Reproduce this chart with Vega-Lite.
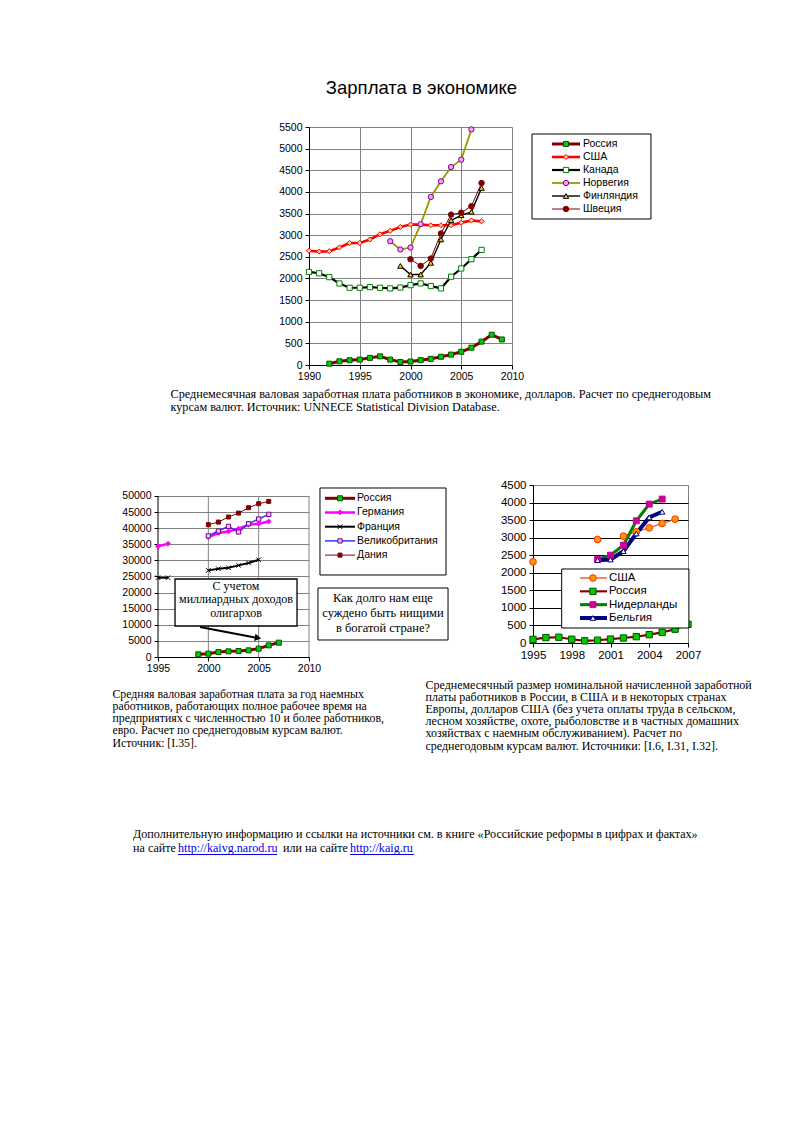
{
  "$schema": "https://vega.github.io/schema/vega-lite/v6.json",
  "background": "white",
  "padding": {"left": 112, "top": 78, "right": 10, "bottom": 10},
  "columns": 3,
  "spacing": 0,
  "align": "each",
  "bounds": "flush",
  "resolve": {"scale": {"x": "independent", "y": "independent", "color": "independent", "fill": "independent", "stroke": "independent", "shape": "independent", "size": "independent", "strokeWidth": "independent"}},
  "datasets": {
    "top": [
      {"s": "Россия", "yr": 1992, "v": 30}, {"s": "Россия", "yr": 1993, "v": 85}, {"s": "Россия", "yr": 1994, "v": 110}, {"s": "Россия", "yr": 1995, "v": 125}, {"s": "Россия", "yr": 1996, "v": 165}, {"s": "Россия", "yr": 1997, "v": 200}, {"s": "Россия", "yr": 1998, "v": 125}, {"s": "Россия", "yr": 1999, "v": 70}, {"s": "Россия", "yr": 2000, "v": 80}, {"s": "Россия", "yr": 2001, "v": 112}, {"s": "Россия", "yr": 2002, "v": 142}, {"s": "Россия", "yr": 2003, "v": 190}, {"s": "Россия", "yr": 2004, "v": 240}, {"s": "Россия", "yr": 2005, "v": 305}, {"s": "Россия", "yr": 2006, "v": 400}, {"s": "Россия", "yr": 2007, "v": 540}, {"s": "Россия", "yr": 2008, "v": 700}, {"s": "Россия", "yr": 2009, "v": 590},
      {"s": "США", "yr": 1990, "v": 2640}, {"s": "США", "yr": 1991, "v": 2620}, {"s": "США", "yr": 1992, "v": 2630}, {"s": "США", "yr": 1993, "v": 2715}, {"s": "США", "yr": 1994, "v": 2820}, {"s": "США", "yr": 1995, "v": 2820}, {"s": "США", "yr": 1996, "v": 2900}, {"s": "США", "yr": 1997, "v": 3020}, {"s": "США", "yr": 1998, "v": 3100}, {"s": "США", "yr": 1999, "v": 3190}, {"s": "США", "yr": 2000, "v": 3245}, {"s": "США", "yr": 2001, "v": 3245}, {"s": "США", "yr": 2002, "v": 3230}, {"s": "США", "yr": 2003, "v": 3230}, {"s": "США", "yr": 2004, "v": 3230}, {"s": "США", "yr": 2005, "v": 3290}, {"s": "США", "yr": 2006, "v": 3340}, {"s": "США", "yr": 2007, "v": 3320},
      {"s": "Канада", "yr": 1990, "v": 2150}, {"s": "Канада", "yr": 1991, "v": 2120}, {"s": "Канада", "yr": 1992, "v": 2030}, {"s": "Канада", "yr": 1993, "v": 1885}, {"s": "Канада", "yr": 1994, "v": 1785}, {"s": "Канада", "yr": 1995, "v": 1785}, {"s": "Канада", "yr": 1996, "v": 1800}, {"s": "Канада", "yr": 1997, "v": 1785}, {"s": "Канада", "yr": 1998, "v": 1770}, {"s": "Канада", "yr": 1999, "v": 1790}, {"s": "Канада", "yr": 2000, "v": 1845}, {"s": "Канада", "yr": 2001, "v": 1885}, {"s": "Канада", "yr": 2002, "v": 1825}, {"s": "Канада", "yr": 2003, "v": 1770}, {"s": "Канада", "yr": 2004, "v": 2040}, {"s": "Канада", "yr": 2005, "v": 2230}, {"s": "Канада", "yr": 2006, "v": 2445}, {"s": "Канада", "yr": 2007, "v": 2660},
      {"s": "Норвегия", "yr": 1998, "v": 2860}, {"s": "Норвегия", "yr": 1999, "v": 2670}, {"s": "Норвегия", "yr": 2000, "v": 2715}, {"s": "Норвегия", "yr": 2001, "v": 3255}, {"s": "Норвегия", "yr": 2002, "v": 3885}, {"s": "Норвегия", "yr": 2003, "v": 4245}, {"s": "Норвегия", "yr": 2004, "v": 4575}, {"s": "Норвегия", "yr": 2005, "v": 4745}, {"s": "Норвегия", "yr": 2006, "v": 5445},
      {"s": "Финляндия", "yr": 1999, "v": 2290}, {"s": "Финляндия", "yr": 2000, "v": 2090}, {"s": "Финляндия", "yr": 2001, "v": 2090}, {"s": "Финляндия", "yr": 2002, "v": 2360}, {"s": "Финляндия", "yr": 2003, "v": 2900}, {"s": "Финляндия", "yr": 2004, "v": 3345}, {"s": "Финляндия", "yr": 2005, "v": 3460}, {"s": "Финляндия", "yr": 2006, "v": 3540}, {"s": "Финляндия", "yr": 2007, "v": 4090},
      {"s": "Швеция", "yr": 2000, "v": 2445}, {"s": "Швеция", "yr": 2001, "v": 2290}, {"s": "Швеция", "yr": 2002, "v": 2460}, {"s": "Швеция", "yr": 2003, "v": 3040}, {"s": "Швеция", "yr": 2004, "v": 3475}, {"s": "Швеция", "yr": 2005, "v": 3520}, {"s": "Швеция", "yr": 2006, "v": 3670}, {"s": "Швеция", "yr": 2007, "v": 4205}
    ],
    "left": [
      {"s": "Россия", "yr": 1999, "v": 830}, {"s": "Россия", "yr": 2000, "v": 1035}, {"s": "Россия", "yr": 2001, "v": 1550}, {"s": "Россия", "yr": 2002, "v": 1760}, {"s": "Россия", "yr": 2003, "v": 1860}, {"s": "Россия", "yr": 2004, "v": 2070}, {"s": "Россия", "yr": 2005, "v": 2590}, {"s": "Россия", "yr": 2006, "v": 3620}, {"s": "Россия", "yr": 2007, "v": 4450},
      {"s": "Германия", "yr": 1995, "v": 34360}, {"s": "Германия", "yr": 1996, "v": 35190}, {"s": "Германия", "yr": 1997, "v": null}, {"s": "Германия", "yr": 2000, "v": 37260}, {"s": "Германия", "yr": 2001, "v": 38500}, {"s": "Германия", "yr": 2002, "v": 39000}, {"s": "Германия", "yr": 2003, "v": 39850}, {"s": "Германия", "yr": 2004, "v": 41090}, {"s": "Германия", "yr": 2005, "v": 41400}, {"s": "Германия", "yr": 2006, "v": 42100},
      {"s": "Франция", "yr": 1995, "v": 24630}, {"s": "Франция", "yr": 1996, "v": 24630}, {"s": "Франция", "yr": 1997, "v": null}, {"s": "Франция", "yr": 2000, "v": 26900}, {"s": "Франция", "yr": 2001, "v": 27400}, {"s": "Франция", "yr": 2002, "v": 27700}, {"s": "Франция", "yr": 2003, "v": 28460}, {"s": "Франция", "yr": 2004, "v": 29190}, {"s": "Франция", "yr": 2005, "v": 30200},
      {"s": "Великобритания", "yr": 2000, "v": 37600}, {"s": "Великобритания", "yr": 2001, "v": 39120}, {"s": "Великобритания", "yr": 2002, "v": 40570}, {"s": "Великобритания", "yr": 2003, "v": 38810}, {"s": "Великобритания", "yr": 2004, "v": 41400}, {"s": "Великобритания", "yr": 2005, "v": 42850}, {"s": "Великобритания", "yr": 2006, "v": 44300},
      {"s": "Дания", "yr": 2000, "v": 41090}, {"s": "Дания", "yr": 2001, "v": 41900}, {"s": "Дания", "yr": 2002, "v": 43470}, {"s": "Дания", "yr": 2003, "v": 44700}, {"s": "Дания", "yr": 2004, "v": 46370}, {"s": "Дания", "yr": 2005, "v": 47600}, {"s": "Дания", "yr": 2006, "v": 48330}
    ],
    "right": [
      {"s": "США", "yr": 1995, "v": 2311}, {"s": "США", "yr": 1996, "v": null}, {"s": "США", "yr": 2000, "v": 2948}, {"s": "США", "yr": 2001, "v": null}, {"s": "США", "yr": 2002, "v": 3043}, {"s": "США", "yr": 2003, "v": 3167}, {"s": "США", "yr": 2004, "v": 3281}, {"s": "США", "yr": 2005, "v": 3405}, {"s": "США", "yr": 2006, "v": 3528},
      {"s": "Россия", "yr": 1995, "v": 103}, {"s": "Россия", "yr": 1996, "v": 154}, {"s": "Россия", "yr": 1997, "v": 164}, {"s": "Россия", "yr": 1998, "v": 108}, {"s": "Россия", "yr": 1999, "v": 62}, {"s": "Россия", "yr": 2000, "v": 79}, {"s": "Россия", "yr": 2001, "v": 111}, {"s": "Россия", "yr": 2002, "v": 142}, {"s": "Россия", "yr": 2003, "v": 180}, {"s": "Россия", "yr": 2004, "v": 237}, {"s": "Россия", "yr": 2005, "v": 302}, {"s": "Россия", "yr": 2006, "v": 394}, {"s": "Россия", "yr": 2007, "v": 532},
      {"s": "Нидерланды", "yr": 2000, "v": 2378}, {"s": "Нидерланды", "yr": 2001, "v": 2501}, {"s": "Нидерланды", "yr": 2002, "v": 2786}, {"s": "Нидерланды", "yr": 2003, "v": 3481}, {"s": "Нидерланды", "yr": 2004, "v": 3956}, {"s": "Нидерланды", "yr": 2005, "v": 4099},
      {"s": "Бельгия", "yr": 2000, "v": 2359}, {"s": "Бельгия", "yr": 2001, "v": 2378}, {"s": "Бельгия", "yr": 2002, "v": 2615}, {"s": "Бельгия", "yr": 2003, "v": 3119}, {"s": "Бельгия", "yr": 2004, "v": 3576}, {"s": "Бельгия", "yr": 2005, "v": 3738}
    ],
    "topLeg": [{"s": "Россия", "i": 1}, {"s": "США", "i": 2}, {"s": "Канада", "i": 3}, {"s": "Норвегия", "i": 4}, {"s": "Финляндия", "i": 5}, {"s": "Швеция", "i": 6}],
    "leftLeg": [{"s": "Россия", "i": 1}, {"s": "Германия", "i": 2}, {"s": "Франция", "i": 3}, {"s": "Великобритания", "i": 4}, {"s": "Дания", "i": 5}],
    "rightLeg": [{"s": "США", "i": 1}, {"s": "Россия", "i": 2}, {"s": "Нидерланды", "i": 3}, {"s": "Бельгия", "i": 4}],
    "leftGrid": [{"g": 2000}, {"g": 2005}, {"g": 2010}]
  },
  "concat": [
    {"width": 151, "height": 358, "data": {"values": [{}]}, "mark": {"type": "point", "opacity": 0}},
    {
      "width": 203, "height": 238,
      "title": {"text": "Зарплата в экономике", "font": "Liberation Sans", "fontSize": 18.5, "fontWeight": "normal", "color": "#000", "anchor": "middle", "frame": "group", "dx": 11, "offset": 25},
      "layer": [
        {"layer": [
          {"data": {"name": "top"}, "mark": {"type": "line"},
           "encoding": {
             "x": {"field": "yr", "type": "quantitative", "scale": {"domain": [1990, 2010], "nice": false, "zero": false},
                   "axis": {"values": [1990, 1995, 2000, 2005, 2010], "tickCount": 100, "format": "d", "grid": true, "labelFlush": false, "labelOverlap": false,
                            "title": ["Среднемесячная валовая заработная плата работников в экономике, долларов. Расчет по среднегодовым", "курсам валют. Источник: UNNECE  Statistical Division Database."],
                            "titleAnchor": "start", "titleAlign": "left", "titleBaseline": "top", "titleX": -139, "titleY": 22, "titleLineHeight": 13.4, "titleFontSize": 12.2}},
             "y": {"field": "v", "type": "quantitative", "scale": {"domain": [0, 5500], "nice": false, "zero": false},
                   "axis": {"values": [0, 500, 1000, 1500, 2000, 2500, 3000, 3500, 4000, 4500, 5000, 5500], "tickCount": 100, "format": "d", "title": null, "grid": true, "labelOverlap": false, "labelPadding": 3}},
             "color": {"field": "s", "type": "nominal", "scale": {"domain": ["Россия", "США", "Канада", "Норвегия", "Финляндия", "Швеция"], "range": ["#800000", "#ff0000", "#000000", "#999900", "#000000", "#800000"]}, "legend": null},
             "strokeWidth": {"field": "s", "type": "nominal", "scale": {"domain": ["Россия", "США", "Канада", "Норвегия", "Финляндия", "Швеция"], "range": [3, 1, 1, 1, 1, 1]}, "legend": null}
           }},
          {"data": {"name": "top"}, "mark": {"type": "point", "filled": true, "opacity": 1, "strokeWidth": 1},
           "encoding": {
             "x": {"field": "yr", "type": "quantitative", "scale": {"domain": [1990, 2010], "nice": false, "zero": false}},
             "y": {"field": "v", "type": "quantitative", "scale": {"domain": [0, 5500], "nice": false, "zero": false}},
             "shape": {"field": "s", "type": "nominal", "scale": {"domain": ["Россия", "США", "Канада", "Норвегия", "Финляндия", "Швеция"], "range": ["square", "diamond", "square", "circle", "triangle-up", "circle"]}, "legend": null},
             "fill": {"field": "s", "type": "nominal", "scale": {"domain": ["Россия", "США", "Канада", "Норвегия", "Финляндия", "Швеция"], "range": ["#00cc00", "#ffcc99", "#ffffff", "#ff99ff", "#ffcc00", "#800000"]}, "legend": null},
             "stroke": {"field": "s", "type": "nominal", "scale": {"domain": ["Россия", "США", "Канада", "Норвегия", "Финляндия", "Швеция"], "range": ["#005500", "#ff0000", "#008000", "#800080", "#000000", "#800000"]}, "legend": null},
             "size": {"field": "s", "type": "nominal", "scale": {"domain": ["Россия", "США", "Канада", "Норвегия", "Финляндия", "Швеция"], "range": [25, 30, 30, 30, 30, 36]}, "legend": null}
           }},
          {"data": {"values": [{}]}, "mark": {"type": "rect", "fill": "#ffffff", "stroke": "#000000", "strokeWidth": 1},
           "encoding": {
             "x": {"datum": 2011.97, "type": "quantitative", "scale": {"domain": [1990, 2010], "nice": false, "zero": false}},
             "x2": {"datum": 2023.69},
             "y": {"datum": 5338, "type": "quantitative", "scale": {"domain": [0, 5500], "nice": false, "zero": false}},
             "y2": {"datum": 3374}
           }}
        ]},
        {"data": {"name": "topLeg"}, "layer": [
          {"mark": {"type": "rule"},
           "encoding": {
             "x": {"datum": 2013.94, "type": "quantitative", "scale": {"domain": [1990, 2010], "nice": false, "zero": false}},
             "x2": {"datum": 2016.7},
             "y": {"field": "i", "type": "quantitative", "scale": {"domain": [-0.3077, 18.0], "reverse": true, "nice": false, "zero": false}, "axis": null},
             "color": {"field": "s", "type": "nominal", "scale": {"domain": ["Россия", "США", "Канада", "Норвегия", "Финляндия", "Швеция"], "range": ["#800000", "#ff0000", "#000000", "#999900", "#000000", "#800000"]}, "legend": null},
             "strokeWidth": {"field": "s", "type": "nominal", "scale": {"domain": ["Россия", "США", "Канада", "Норвегия", "Финляндия", "Швеция"], "range": [3, 1, 1, 1, 1, 1]}, "legend": null}
           }},
          {"mark": {"type": "point", "filled": true, "opacity": 1, "strokeWidth": 1},
           "encoding": {
             "x": {"datum": 2015.32, "type": "quantitative", "scale": {"domain": [1990, 2010], "nice": false, "zero": false}},
             "y": {"field": "i", "type": "quantitative", "scale": {"domain": [-0.3077, 18.0], "reverse": true, "nice": false, "zero": false}, "axis": null},
             "shape": {"field": "s", "type": "nominal", "scale": {"domain": ["Россия", "США", "Канада", "Норвегия", "Финляндия", "Швеция"], "range": ["square", "diamond", "square", "circle", "triangle-up", "circle"]}, "legend": null},
             "fill": {"field": "s", "type": "nominal", "scale": {"domain": ["Россия", "США", "Канада", "Норвегия", "Финляндия", "Швеция"], "range": ["#00cc00", "#ffcc99", "#ffffff", "#ff99ff", "#ffcc00", "#800000"]}, "legend": null},
             "stroke": {"field": "s", "type": "nominal", "scale": {"domain": ["Россия", "США", "Канада", "Норвегия", "Финляндия", "Швеция"], "range": ["#005500", "#ff0000", "#008000", "#800080", "#000000", "#800000"]}, "legend": null},
             "size": {"field": "s", "type": "nominal", "scale": {"domain": ["Россия", "США", "Канада", "Норвегия", "Финляндия", "Швеция"], "range": [25, 30, 30, 30, 30, 36]}, "legend": null}
           }},
          {"mark": {"type": "text", "align": "left", "baseline": "middle", "font": "Liberation Sans", "fontSize": 10.5, "color": "#000000"},
           "encoding": {
             "x": {"datum": 2016.99, "type": "quantitative", "scale": {"domain": [1990, 2010], "nice": false, "zero": false}},
             "y": {"field": "i", "type": "quantitative", "scale": {"domain": [-0.3077, 18.0], "reverse": true, "nice": false, "zero": false}, "axis": null},
             "text": {"field": "s"}
           }}
        ]}
      ],
      "resolve": {"scale": {"y": "independent"}}
    },
    {"width": 1, "height": 1, "data": {"values": [{}]}, "mark": {"type": "point", "opacity": 0}},
    {
      "width": 151, "height": 172,
      "layer": [
        {"layer": [
          {"data": {"name": "leftGrid"}, "mark": {"type": "rule", "color": "#808080", "strokeWidth": 1},
           "encoding": {
             "x": {"field": "g", "type": "quantitative", "scale": {"domain": [1995, 2010], "nice": false, "zero": false}},
             "y": {"datum": 0, "type": "quantitative", "scale": {"domain": [0, 53416], "nice": false, "zero": false}},
             "y2": {"datum": 50000}
           }},
          {"data": {"values": [{}]}, "mark": {"type": "rule", "color": "#000000", "strokeWidth": 1},
           "encoding": {
             "x": {"datum": 1995, "type": "quantitative", "scale": {"domain": [1995, 2010], "nice": false, "zero": false}},
             "y": {"datum": 0, "type": "quantitative", "scale": {"domain": [0, 53416], "nice": false, "zero": false}},
             "y2": {"datum": 50000}
           }},
          {"data": {"name": "left"}, "mark": {"type": "line"},
           "encoding": {
             "x": {"field": "yr", "type": "quantitative", "scale": {"domain": [1995, 2010], "nice": false, "zero": false},
                   "axis": {"values": [1995, 2000, 2005, 2010], "tickCount": 100, "format": "d", "grid": false, "labelFlush": false, "labelOverlap": false,
                            "title": ["Средняя валовая заработная плата за год наемных", "работников, работающих полное рабочее время на", "предприятиях с численностью 10 и более работников,", "евро. Расчет по среднегодовым курсам валют.", "Источник: [I.35]."],
                            "titleAnchor": "start", "titleAlign": "left", "titleBaseline": "top", "titleX": -46, "titleY": 31, "titleLineHeight": 12.3, "titleFontSize": 11.8}},
             "y": {"field": "v", "type": "quantitative", "scale": {"domain": [0, 53416], "nice": false, "zero": false},
                   "axis": {"values": [0, 5000, 10000, 15000, 20000, 25000, 30000, 35000, 40000, 45000, 50000], "tickCount": 100, "format": "d", "title": null, "grid": true, "domain": false, "labelOverlap": false, "labelPadding": 3}},
             "color": {"field": "s", "type": "nominal", "scale": {"domain": ["Россия", "Германия", "Франция", "Великобритания", "Дания"], "range": ["#800000", "#ff00ff", "#000000", "#3333ff", "#800000"]}, "legend": null},
             "strokeWidth": {"field": "s", "type": "nominal", "scale": {"domain": ["Россия", "Германия", "Франция", "Великобритания", "Дания"], "range": [3, 1, 1, 1, 1]}, "legend": null}
           }},
          {"data": {"name": "left"}, "mark": {"type": "point", "filled": true, "opacity": 1, "strokeWidth": 1},
           "encoding": {
             "x": {"field": "yr", "type": "quantitative", "scale": {"domain": [1995, 2010], "nice": false, "zero": false}},
             "y": {"field": "v", "type": "quantitative", "scale": {"domain": [0, 53416], "nice": false, "zero": false}},
             "shape": {"field": "s", "type": "nominal", "scale": {"domain": ["Россия", "Германия", "Франция", "Великобритания", "Дания"], "range": ["square", "diamond", "M-1,-1L1,1M-1,1L1,-1", "square", "square"]}, "legend": null},
             "fill": {"field": "s", "type": "nominal", "scale": {"domain": ["Россия", "Германия", "Франция", "Великобритания", "Дания"], "range": ["#00cc00", "#ff00ff", "transparent", "#ccccff", "#800000"]}, "legend": null},
             "stroke": {"field": "s", "type": "nominal", "scale": {"domain": ["Россия", "Германия", "Франция", "Великобритания", "Дания"], "range": ["#005500", "#ff00ff", "#000000", "#800080", "#800000"]}, "legend": null},
             "size": {"field": "s", "type": "nominal", "scale": {"domain": ["Россия", "Германия", "Франция", "Великобритания", "Дания"], "range": [25, 16, 25, 30, 30]}, "legend": null}
           }},
          {"data": {"values": [{}]}, "mark": {"type": "rect", "fill": "#ffffff", "stroke": "#000000", "strokeWidth": 1.3},
           "encoding": {
             "x": {"datum": 1996.69, "type": "quantitative", "scale": {"domain": [1995, 2010], "nice": false, "zero": false}},
             "x2": {"datum": 2008.81},
             "y": {"datum": 24230, "type": "quantitative", "scale": {"domain": [0, 53416], "nice": false, "zero": false}},
             "y2": {"datum": 9630}
           }},
          {"data": {"values": [{}]}, "mark": {"type": "text", "align": "center", "baseline": "middle", "font": "Liberation Serif", "fontSize": 12, "lineHeight": 13.5, "color": "#000000", "text": ["С учетом", "миллиардных доходов", "олигархов"]},
           "encoding": {
             "x": {"datum": 2002.75, "type": "quantitative", "scale": {"domain": [1995, 2010], "nice": false, "zero": false}},
             "y": {"datum": 22050, "type": "quantitative", "scale": {"domain": [0, 53416], "nice": false, "zero": false}}
           }},
          {"data": {"values": [{}]}, "mark": {"type": "rule", "color": "#000000", "strokeWidth": 2},
           "encoding": {
             "x": {"datum": 1999.17, "type": "quantitative", "scale": {"domain": [1995, 2010], "nice": false, "zero": false}},
             "x2": {"datum": 2004.64},
             "y": {"datum": 9317, "type": "quantitative", "scale": {"domain": [0, 53416], "nice": false, "zero": false}},
             "y2": {"datum": 6056}
           }},
          {"data": {"values": [{}]}, "mark": {"type": "point", "shape": "triangle-right", "filled": true, "color": "#000000", "opacity": 1, "size": 55, "angle": 11},
           "encoding": {
             "x": {"datum": 2004.93, "type": "quantitative", "scale": {"domain": [1995, 2010], "nice": false, "zero": false}},
             "y": {"datum": 5900, "type": "quantitative", "scale": {"domain": [0, 53416], "nice": false, "zero": false}}
           }},
          {"data": {"values": [{}]}, "mark": {"type": "rect", "fill": "#ffffff", "stroke": "#000000", "strokeWidth": 1},
           "encoding": {
             "x": {"datum": 2011.09, "type": "quantitative", "scale": {"domain": [1995, 2010], "nice": false, "zero": false}},
             "x2": {"datum": 2023.61},
             "y": {"datum": 52485, "type": "quantitative", "scale": {"domain": [0, 53416], "nice": false, "zero": false}},
             "y2": {"datum": 25466}
           }},
          {"data": {"values": [{}]}, "mark": {"type": "rect", "fill": "#ffffff", "stroke": "#000000", "strokeWidth": 1},
           "encoding": {
             "x": {"datum": 2010.89, "type": "quantitative", "scale": {"domain": [1995, 2010], "nice": false, "zero": false}},
             "x2": {"datum": 2023.81},
             "y": {"datum": 21429, "type": "quantitative", "scale": {"domain": [0, 53416], "nice": false, "zero": false}},
             "y2": {"datum": 5280}
           }},
          {"data": {"values": [{}]}, "mark": {"type": "text", "align": "center", "baseline": "middle", "font": "Liberation Serif", "fontSize": 12.5, "lineHeight": 15, "color": "#000000", "text": ["Как долго нам еще", "суждено быть нищими", "в богатой стране?"]},
           "encoding": {
             "x": {"datum": 2017.35, "type": "quantitative", "scale": {"domain": [1995, 2010], "nice": false, "zero": false}},
             "y": {"datum": 18230, "type": "quantitative", "scale": {"domain": [0, 53416], "nice": false, "zero": false}}
           }},
          {"data": {"values": [{}]}, "mark": {"type": "text", "align": "left", "baseline": "middle", "font": "Liberation Serif", "fontSize": 12.1, "color": "#000000", "text": "Дополнительную информацию и ссылки на источники см. в книге «Российские реформы в цифрах и фактах»"},
           "encoding": {
             "x": {"datum": 1992.52, "type": "quantitative", "scale": {"domain": [1995, 2010], "nice": false, "zero": false}},
             "y": {"datum": -54970, "type": "quantitative", "scale": {"domain": [0, 53416], "nice": false, "zero": false}}
           }},
          {"data": {"values": [{}]}, "mark": {"type": "text", "align": "left", "baseline": "middle", "font": "Liberation Serif", "fontSize": 12.1, "color": "#000000", "text": "на сайте"},
           "encoding": {
             "x": {"datum": 1992.52, "type": "quantitative", "scale": {"domain": [1995, 2010], "nice": false, "zero": false}},
             "y": {"datum": -59320, "type": "quantitative", "scale": {"domain": [0, 53416], "nice": false, "zero": false}}
           }},
          {"data": {"values": [{}]}, "mark": {"type": "text", "align": "left", "baseline": "middle", "font": "Liberation Serif", "fontSize": 12.1, "color": "#0000ee", "text": "http://kaivg.narod.ru"},
           "encoding": {
             "x": {"datum": 1996.99, "type": "quantitative", "scale": {"domain": [1995, 2010], "nice": false, "zero": false}},
             "y": {"datum": -59320, "type": "quantitative", "scale": {"domain": [0, 53416], "nice": false, "zero": false}}
           }},
          {"data": {"values": [{}]}, "mark": {"type": "text", "align": "left", "baseline": "middle", "font": "Liberation Serif", "fontSize": 12.1, "color": "#000000", "text": "или на сайте"},
           "encoding": {
             "x": {"datum": 2007.42, "type": "quantitative", "scale": {"domain": [1995, 2010], "nice": false, "zero": false}},
             "y": {"datum": -59320, "type": "quantitative", "scale": {"domain": [0, 53416], "nice": false, "zero": false}}
           }},
          {"data": {"values": [{}]}, "mark": {"type": "text", "align": "left", "baseline": "middle", "font": "Liberation Serif", "fontSize": 12.1, "color": "#0000ee", "text": "http://kaig.ru"},
           "encoding": {
             "x": {"datum": 2014.07, "type": "quantitative", "scale": {"domain": [1995, 2010], "nice": false, "zero": false}},
             "y": {"datum": -59320, "type": "quantitative", "scale": {"domain": [0, 53416], "nice": false, "zero": false}}
           }},
          {"data": {"values": [{}]}, "mark": {"type": "rule", "color": "#0000ee", "strokeWidth": 1},
           "encoding": {
             "x": {"datum": 1996.99, "type": "quantitative", "scale": {"domain": [1995, 2010], "nice": false, "zero": false}},
             "x2": {"datum": 2006.82},
             "y": {"datum": -61340, "type": "quantitative", "scale": {"domain": [0, 53416], "nice": false, "zero": false}}
           }},
          {"data": {"values": [{}]}, "mark": {"type": "rule", "color": "#0000ee", "strokeWidth": 1},
           "encoding": {
             "x": {"datum": 2014.07, "type": "quantitative", "scale": {"domain": [1995, 2010], "nice": false, "zero": false}},
             "x2": {"datum": 2020.43},
             "y": {"datum": -61340, "type": "quantitative", "scale": {"domain": [0, 53416], "nice": false, "zero": false}}
           }}
        ]},
        {"data": {"name": "leftLeg"}, "layer": [
          {"mark": {"type": "rule"},
           "encoding": {
             "x": {"datum": 2011.59, "type": "quantitative", "scale": {"domain": [1995, 2010], "nice": false, "zero": false}},
             "x2": {"datum": 2014.57},
             "y": {"field": "i", "type": "quantitative", "scale": {"domain": [0.0634, 12.176], "reverse": true, "nice": false, "zero": false}, "axis": null},
             "color": {"field": "s", "type": "nominal", "scale": {"domain": ["Россия", "Германия", "Франция", "Великобритания", "Дания"], "range": ["#800000", "#ff00ff", "#000000", "#3333ff", "#800000"]}, "legend": null},
             "strokeWidth": {"field": "s", "type": "nominal", "scale": {"domain": ["Россия", "Германия", "Франция", "Великобритания", "Дания"], "range": [3, 1, 1, 1, 1]}, "legend": null}
           }},
          {"mark": {"type": "point", "filled": true, "opacity": 1, "strokeWidth": 1},
           "encoding": {
             "x": {"datum": 2013.08, "type": "quantitative", "scale": {"domain": [1995, 2010], "nice": false, "zero": false}},
             "y": {"field": "i", "type": "quantitative", "scale": {"domain": [0.0634, 12.176], "reverse": true, "nice": false, "zero": false}, "axis": null},
             "shape": {"field": "s", "type": "nominal", "scale": {"domain": ["Россия", "Германия", "Франция", "Великобритания", "Дания"], "range": ["square", "diamond", "M-1,-1L1,1M-1,1L1,-1", "square", "square"]}, "legend": null},
             "fill": {"field": "s", "type": "nominal", "scale": {"domain": ["Россия", "Германия", "Франция", "Великобритания", "Дания"], "range": ["#00cc00", "#ff00ff", "transparent", "#ccccff", "#800000"]}, "legend": null},
             "stroke": {"field": "s", "type": "nominal", "scale": {"domain": ["Россия", "Германия", "Франция", "Великобритания", "Дания"], "range": ["#005500", "#ff00ff", "#000000", "#800080", "#800000"]}, "legend": null},
             "size": {"field": "s", "type": "nominal", "scale": {"domain": ["Россия", "Германия", "Франция", "Великобритания", "Дания"], "range": [25, 16, 25, 30, 30]}, "legend": null}
           }},
          {"mark": {"type": "text", "align": "left", "baseline": "middle", "font": "Liberation Sans", "fontSize": 10.5, "color": "#000000"},
           "encoding": {
             "x": {"datum": 2014.77, "type": "quantitative", "scale": {"domain": [1995, 2010], "nice": false, "zero": false}},
             "y": {"field": "i", "type": "quantitative", "scale": {"domain": [0.0634, 12.176], "reverse": true, "nice": false, "zero": false}, "axis": null},
             "text": {"field": "s"}
           }}
        ]}
      ],
      "resolve": {"scale": {"y": "independent"}}
    },
    {"width": 224, "height": 1, "data": {"values": [{}]}, "mark": {"type": "point", "opacity": 0}},
    {
      "width": 155, "height": 158,
      "view": {"stroke": "#808080"},
      "layer": [
        {"layer": [
          {"data": {"name": "right"}, "mark": {"type": "line"},
           "encoding": {
             "x": {"field": "yr", "type": "quantitative", "scale": {"domain": [1995, 2007], "nice": false, "zero": false},
                   "axis": {"values": [1995, 1998, 2001, 2004, 2007], "tickCount": 100, "format": "d", "grid": false, "labelFlush": false, "labelOverlap": false, "labelFontSize": 11.5,
                            "title": ["Среднемесячный размер номинальной начисленной заработной", "платы работников в России, в США и в некоторых странах", "Европы, долларов США (без учета оплаты труда в сельском,", "лесном хозяйстве, охоте, рыболовстве и в частных домашних", "хозяйствах с наемным обслуживанием). Расчет по", "среднегодовым курсам валют.  Источники: [I.6, I.31, I.32]."],
                            "titleAnchor": "start", "titleAlign": "left", "titleBaseline": "top", "titleX": -108, "titleY": 36, "titleLineHeight": 12.2, "titleFontSize": 12}},
             "y": {"field": "v", "type": "quantitative", "scale": {"domain": [0, 4500], "nice": false, "zero": false},
                   "axis": {"values": [0, 500, 1000, 1500, 2000, 2500, 3000, 3500, 4000, 4500], "tickCount": 100, "format": "d", "title": null, "grid": true, "labelOverlap": false, "labelFontSize": 11.5, "labelPadding": 3,
                            "gridColor": {"condition": {"test": "datum.value === 4500", "value": "#808080"}, "value": "#000000"}}},
             "color": {"field": "s", "type": "nominal", "scale": {"domain": ["США", "Россия", "Нидерланды", "Бельгия"], "range": ["#ff3300", "#800000", "#008000", "#000080"]}, "legend": null},
             "strokeWidth": {"field": "s", "type": "nominal", "scale": {"domain": ["США", "Россия", "Нидерланды", "Бельгия"], "range": [1.2, 4, 1.2, 1]}, "legend": null}
           }},
          {"data": {"name": "right"}, "mark": {"type": "point", "filled": true, "opacity": 1, "strokeWidth": 1},
           "encoding": {
             "x": {"field": "yr", "type": "quantitative", "scale": {"domain": [1995, 2007], "nice": false, "zero": false}},
             "y": {"field": "v", "type": "quantitative", "scale": {"domain": [0, 4500], "nice": false, "zero": false}},
             "shape": {"field": "s", "type": "nominal", "scale": {"domain": ["США", "Россия", "Нидерланды", "Бельгия"], "range": ["circle", "square", "square", "triangle-up"]}, "legend": null},
             "fill": {"field": "s", "type": "nominal", "scale": {"domain": ["США", "Россия", "Нидерланды", "Бельгия"], "range": ["#ff9900", "#00cc00", "#cc0099", "#ffffff"]}, "legend": null},
             "stroke": {"field": "s", "type": "nominal", "scale": {"domain": ["США", "Россия", "Нидерланды", "Бельгия"], "range": ["#ff3300", "#005500", "#cc0099", "#000080"]}, "legend": null},
             "size": {"field": "s", "type": "nominal", "scale": {"domain": ["США", "Россия", "Нидерланды", "Бельгия"], "range": [45, 30, 16, 40]}, "legend": null}
           }},
          {"data": {"values": [{}]}, "mark": {"type": "rect", "fill": "#ffffff", "stroke": "#000000", "strokeWidth": 1},
           "encoding": {
             "x": {"datum": 1997.22, "type": "quantitative", "scale": {"domain": [1995, 2007], "nice": false, "zero": false}},
             "x2": {"datum": 2007.07},
             "y": {"datum": 2108, "type": "quantitative", "scale": {"domain": [0, 4500], "nice": false, "zero": false}},
             "y2": {"datum": 427}
           }}
        ]},
        {"data": {"name": "rightLeg"}, "layer": [
          {"mark": {"type": "rule"},
           "encoding": {
             "x": {"datum": 1998.64, "type": "quantitative", "scale": {"domain": [1995, 2007], "nice": false, "zero": false}},
             "x2": {"datum": 2000.73},
             "y": {"field": "i", "type": "quantitative", "scale": {"domain": [-5.977, 5.876], "reverse": true, "nice": false, "zero": false}, "axis": null},
             "color": {"field": "s", "type": "nominal", "scale": {"domain": ["США", "Россия", "Нидерланды", "Бельгия"], "range": ["#ff3300", "#800000", "#008000", "#000080"]}, "legend": null},
             "strokeWidth": {"field": "s", "type": "nominal", "scale": {"domain": ["США", "Россия", "Нидерланды", "Бельгия"], "range": [1.2, 4, 1.2, 1]}, "legend": null}
           }},
          {"mark": {"type": "point", "filled": true, "opacity": 1, "strokeWidth": 1},
           "encoding": {
             "x": {"datum": 1999.64, "type": "quantitative", "scale": {"domain": [1995, 2007], "nice": false, "zero": false}},
             "y": {"field": "i", "type": "quantitative", "scale": {"domain": [-5.977, 5.876], "reverse": true, "nice": false, "zero": false}, "axis": null},
             "shape": {"field": "s", "type": "nominal", "scale": {"domain": ["США", "Россия", "Нидерланды", "Бельгия"], "range": ["circle", "square", "square", "triangle-up"]}, "legend": null},
             "fill": {"field": "s", "type": "nominal", "scale": {"domain": ["США", "Россия", "Нидерланды", "Бельгия"], "range": ["#ff9900", "#00cc00", "#cc0099", "#ffffff"]}, "legend": null},
             "stroke": {"field": "s", "type": "nominal", "scale": {"domain": ["США", "Россия", "Нидерланды", "Бельгия"], "range": ["#ff3300", "#005500", "#cc0099", "#000080"]}, "legend": null},
             "size": {"field": "s", "type": "nominal", "scale": {"domain": ["США", "Россия", "Нидерланды", "Бельгия"], "range": [45, 30, 16, 40]}, "legend": null}
           }},
          {"mark": {"type": "text", "align": "left", "baseline": "middle", "font": "Liberation Sans", "fontSize": 11.5, "color": "#000000"},
           "encoding": {
             "x": {"datum": 2000.88, "type": "quantitative", "scale": {"domain": [1995, 2007], "nice": false, "zero": false}},
             "y": {"field": "i", "type": "quantitative", "scale": {"domain": [-5.977, 5.876], "reverse": true, "nice": false, "zero": false}, "axis": null},
             "text": {"field": "s"}
           }}
        ]}
      ],
      "resolve": {"scale": {"y": "independent"}}
    }
  ],
  "config": {
    "view": {"stroke": null},
    "font": "Liberation Sans",
    "axis": {"labelFont": "Liberation Sans", "labelFontSize": 10.5, "labelColor": "#000000", "labelOverlap": false, "domainColor": "#000000", "domainWidth": 1, "tickColor": "#000000", "tickSize": 4, "tickWidth": 1, "gridColor": "#808080", "gridWidth": 1, "gridOpacity": 1, "titleFont": "Liberation Serif", "titleFontWeight": "normal", "titleColor": "#000000", "titleFontSize": 12, "labelPadding": 2}
  }
}
